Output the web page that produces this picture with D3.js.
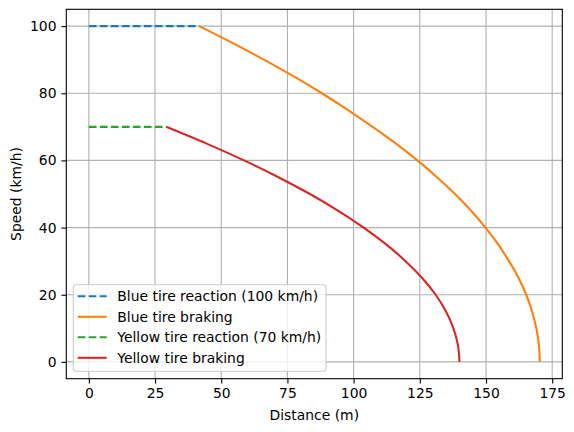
<!DOCTYPE html>
<html>
<head>
<meta charset="utf-8">
<script src="https://cdn.jsdelivr.net/npm/d3@7"></script>
<style>
  body { margin: 0; background: #fff; }
  text { font-family: "DejaVu Sans", sans-serif; fill: #000; }
</style>
</head>
<body>
<svg id="chart" width="574" height="432"></svg>
<script>
// reaction segments (distance m, speed km/h)
var blueReactionDist = [0, 41.7];
var blueReactionSpeed = [100, 100];
var yellowReactionDist = [0, 29.2];
var yellowReactionSpeed = [70, 70];

// braking curves
var blueBrakeSpeed = [100, 95, 90, 85, 80, 75, 70, 65, 60, 55, 50, 45, 40, 35, 30, 25, 20, 15, 10, 5, 0];
var blueBrakeDist = [41.7, 54.2, 66.1, 77.4, 88.0, 97.9, 107.2, 116.0, 124.1, 131.5, 138.3, 144.4, 149.8, 154.6, 158.7, 162.3, 165.2, 167.4, 169.0, 170.0, 170.3];
var yellowBrakeSpeed = [70, 65, 60, 55, 50, 45, 40, 35, 30, 25, 20, 15, 10, 5, 0];
var yellowBrakeDist = [29.2, 44.5, 58.6, 71.6, 83.5, 94.2, 103.8, 112.3, 119.6, 125.9, 131.0, 134.9, 137.7, 139.4, 140.0];

var xTicks = [0, 25, 50, 75, 100, 125, 150, 175];
var yTicks = [0, 20, 40, 60, 80, 100];

var seriesNames = ["Blue tire reaction (100 km/h)", "Blue tire braking", "Yellow tire reaction (70 km/h)", "Yellow tire braking"];
var seriesColors = ["#1f77b4", "#ff7f0e", "#2ca02c", "#d62728"];
var seriesDashed = [true, false, true, false];

function zip(xs, ys) {
    return xs.map(function(x, i) { return [x, ys[i]]; });
}

var series = [
    zip(blueReactionDist, blueReactionSpeed),
    zip(blueBrakeDist, blueBrakeSpeed),
    zip(yellowReactionDist, yellowReactionSpeed),
    zip(yellowBrakeDist, yellowBrakeSpeed)
];

var plotLeft = 66.3, plotRight = 562.3, plotTop = 9.3, plotBottom = 378.7;

// matplotlib style 5% margins
var allX = [].concat(blueReactionDist, blueBrakeDist, yellowReactionDist, yellowBrakeDist);
var allY = [].concat(blueBrakeSpeed, yellowBrakeSpeed);
var xMin = d3.min(allX), xMax = d3.max(allX);
var yMin = d3.min(allY), yMax = d3.max(allY);
var xPad = (xMax - xMin) * 0.05, yPad = (yMax - yMin) * 0.05;

var x = d3.scaleLinear().domain([xMin - xPad, xMax + xPad]).range([plotLeft, plotRight]);
var y = d3.scaleLinear().domain([yMin - yPad, yMax + yPad]).range([plotBottom, plotTop]);

var svg = d3.select("#chart");

// grid
var grid = svg.append("g");
grid.selectAll(".gx").data(xTicks).enter().append("line")
    .attr("x1", function(d) { return x(d); }).attr("x2", function(d) { return x(d); })
    .attr("y1", plotTop).attr("y2", plotBottom)
    .style("stroke", "#b0b0b0").style("stroke-width", 1.1);
grid.selectAll(".gy").data(yTicks).enter().append("line")
    .attr("y1", function(d) { return y(d); }).attr("y2", function(d) { return y(d); })
    .attr("x1", plotLeft).attr("x2", plotRight)
    .style("stroke", "#b0b0b0").style("stroke-width", 1.1);

// lines
var line = d3.line()
    .x(function(d) { return x(d[0]); })
    .y(function(d) { return y(d[1]); })
    .curve(d3.curveMonotoneY);

var plot = svg.append("g");
series.forEach(function(pts, i) {
    plot.append("path")
        .attr("d", line(pts))
        .style("fill", "none")
        .style("stroke", seriesColors[i])
        .style("stroke-width", 2.08)
        .style("stroke-dasharray", seriesDashed[i] ? "7.7,3.3" : null);
});

// axes
var xAxis = d3.axisBottom(x).tickValues(xTicks).tickSizeOuter(0).tickSize(4.9).tickPadding(4.9);
var yAxis = d3.axisLeft(y).tickValues(yTicks).tickSizeOuter(0).tickSize(4.9).tickPadding(4.9);

var gx = svg.append("g").attr("transform", "translate(0," + plotBottom + ")").call(xAxis);
var gy = svg.append("g").attr("transform", "translate(" + plotLeft + ",0)").call(yAxis);
[gx, gy].forEach(function(g) {
    g.select(".domain").remove();
    g.selectAll(".tick line").style("stroke", "#000").style("stroke-width", 1.1);
    g.selectAll(".tick text").style("font-size", "13.9px").style("font-family", "DejaVu Sans").attr("fill", "#000");
});

// frame
svg.append("rect")
    .attr("x", plotLeft).attr("y", plotTop)
    .attr("width", plotRight - plotLeft).attr("height", plotBottom - plotTop)
    .style("fill", "none").style("stroke", "#000").style("stroke-width", 1.1);

// axis labels
svg.append("text")
    .attr("x", (plotLeft + plotRight) / 2).attr("y", 420)
    .attr("text-anchor", "middle")
    .style("font-size", "13.9px")
    .text("Distance (m)");
svg.append("text")
    .attr("transform", "translate(20.5," + ((plotTop + plotBottom) / 2) + ") rotate(-90)")
    .attr("text-anchor", "middle")
    .style("font-size", "13.9px")
    .text("Speed (km/h)");

// legend
var legend = svg.append("g");
legend.append("rect")
    .attr("x", 73.3).attr("y", 284.7)
    .attr("width", 252.7).attr("height", 86.6)
    .attr("rx", 2.8)
    .style("fill", "#fff").style("fill-opacity", 0.8)
    .style("stroke", "#cccccc").style("stroke-width", 1.1);

seriesNames.forEach(function(name, i) {
    var ly = 296.3 + i * 20.5;
    legend.append("line")
        .attr("x1", 77.7).attr("x2", 106.7)
        .attr("y1", ly).attr("y2", ly)
        .style("stroke", seriesColors[i])
        .style("stroke-width", 2.08)
        .style("stroke-dasharray", seriesDashed[i] ? "7.7,3.3" : null);
    legend.append("text")
        .attr("x", 117.3).attr("y", ly + 5)
        .style("font-size", "13.9px")
        .text(name);
});
</script>
</body>
</html>
